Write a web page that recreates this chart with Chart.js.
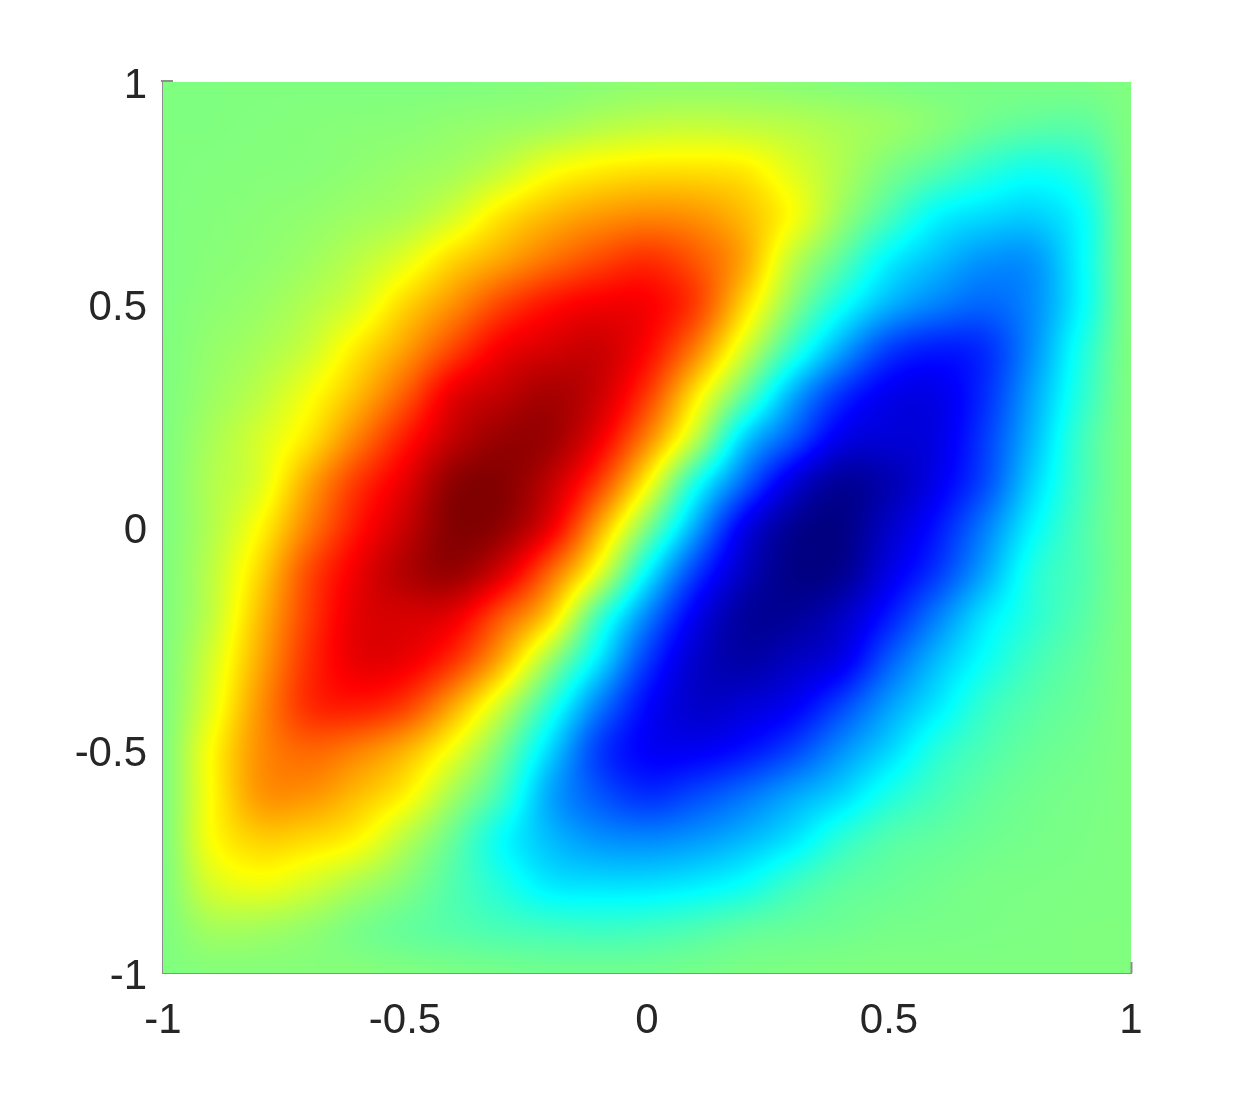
<!DOCTYPE html>
<html>
<head>
<meta charset="utf-8">
<script src="https://cdn.jsdelivr.net/npm/chart.js@4/dist/chart.umd.min.js"></script>
<style>
html, body { margin: 0; padding: 0; background: #fff; }
canvas { display: block; }
</style>
</head>
<body>
<canvas id="chart" width="1250" height="1094"></canvas>
<script>
// grid positions
const xValues = [-1,-.9,-.8,-.7,-.6,-.5,-.4,-.3,-.2,-.1,0,.1,.2,.3,.4,.5,.6,.7,.8,.9,1];
const yValues = [1,.9,.8,.7,.6,.5,.4,.3,.2,.1,0,-.1,-.2,-.3,-.4,-.5,-.6,-.7,-.8,-.9,-1];
const tickValues = [-1,-.5,0,.5,1];
const tickLabels = ['-1','-0.5','0','0.5','1'];

const surface = [
  [0,0,0,0,0,0,0,.005,.01,.02,.03,.03,.03,.02,.01,0,-.01,-.01,-.01,-.01,0],
  [0,0,.005,.01,.015,.02,.035,.05,.07,.105,.13,.14,.13,.11,.08,.05,.01,-.04,-.07,-.07,0],
  [0,.005,.01,.015,.03,.05,.075,.14,.235,.285,.31,.31,.29,.19,.09,-.01,-.09,-.17,-.22,-.17,0],
  [0,.01,.02,.035,.06,.09,.17,.30,.39,.45,.48,.46,.38,.24,.05,-.11,-.26,-.32,-.34,-.24,0],
  [0,.015,.03,.06,.115,.2,.33,.43,.53,.61,.66,.58,.42,.13,-.07,-.27,-.38,-.46,-.45,-.25,0],
  [0,.025,.05,.10,.18,.33,.47,.62,.72,.77,.76,.63,.33,.02,-.22,-.4,-.50,-.55,-.47,-.25,0],
  [0,.04,.08,.15,.29,.44,.62,.77,.83,.85,.74,.50,.17,-.15,-.42,-.63,-.70,-.66,-.46,-.2,0],
  [0,.055,.12,.23,.38,.57,.79,.87,.92,.85,.64,.30,-.05,-.40,-.65,-.78,-.79,-.66,-.42,-.17,0],
  [0,.08,.17,.30,.50,.70,.87,.95,.94,.78,.49,.12,-.33,-.58,-.79,-.83,-.80,-.63,-.38,-.13,0],
  [0,.095,.19,.42,.64,.80,.97,.985,.87,.63,.26,-.2,-.55,-.82,-.95,-.90,-.78,-.60,-.33,-.12,0],
  [0,.10,.26,.50,.71,.86,.99,.96,.78,.42,0,-.42,-.78,-.96,-.99,-.86,-.71,-.50,-.26,-.10,0],
  [0,.12,.33,.60,.78,.90,.95,.82,.55,.2,-.26,-.63,-.87,-.985,-.97,-.80,-.64,-.42,-.19,-.095,0],
  [0,.13,.38,.63,.80,.83,.79,.58,.33,-.12,-.49,-.78,-.94,-.95,-.87,-.70,-.50,-.30,-.17,-.08,0],
  [0,.17,.42,.66,.79,.78,.65,.40,.05,-.30,-.64,-.85,-.92,-.87,-.79,-.57,-.38,-.23,-.12,-.055,0],
  [0,.2,.46,.66,.70,.63,.42,.15,-.17,-.50,-.74,-.85,-.83,-.77,-.62,-.44,-.29,-.15,-.08,-.04,0],
  [0,.25,.47,.55,.50,.4,.22,-.02,-.33,-.63,-.76,-.77,-.72,-.62,-.47,-.33,-.18,-.10,-.05,-.025,0],
  [0,.25,.45,.46,.38,.27,.07,-.13,-.42,-.58,-.66,-.61,-.53,-.43,-.33,-.2,-.115,-.06,-.03,-.015,0],
  [0,.24,.34,.32,.26,.11,-.05,-.24,-.38,-.46,-.48,-.45,-.39,-.30,-.17,-.09,-.06,-.035,-.02,-.01,0],
  [0,.17,.22,.17,.09,.01,-.09,-.19,-.29,-.31,-.31,-.285,-.235,-.14,-.075,-.05,-.03,-.015,-.01,-.005,0],
  [0,.07,.07,.04,-.01,-.05,-.08,-.11,-.13,-.14,-.13,-.105,-.07,-.05,-.035,-.02,-.015,-.01,-.005,0,0],
  [0,.01,.01,.01,.01,0,-.01,-.02,-.03,-.03,-.03,-.02,-.01,-.005,0,0,0,0,0,0,0]
];

const axisGray = '#8e8e8e';

// jet colormap, value -1..1
function jet(v) {
  const t = Math.max(0, Math.min(1, (v + 1) / 2));
  const ramp = c => Math.round(255 * Math.max(0, Math.min(1, 1.5 - Math.abs(4 * t - c))));
  return [ramp(3), ramp(2), ramp(1)];
}

// Catmull-Rom between grid values, like shading interp on the surface
function cr(a, b, c, d, u) {
  return 0.5 * (2 * b + (c - a) * u + (2 * a - 5 * b + 4 * c - d) * u * u + (3 * b - a - 3 * c + d) * u * u * u);
}
function sample(x, y) {
  const n = xValues.length - 1, m = yValues.length - 1;
  const fx = Math.min(n - 1e-6, Math.max(0, (x - xValues[0]) / (xValues[n] - xValues[0]) * n));
  const fy = Math.min(m - 1e-6, Math.max(0, (y - yValues[0]) / (yValues[m] - yValues[0]) * m));
  const i = Math.floor(fx), j = Math.floor(fy);
  const row = r => {
    const R = surface[Math.max(0, Math.min(m, r))];
    return cr(R[Math.max(0, i - 1)], R[i], R[i + 1], R[Math.min(n, i + 2)], fx - i);
  };
  return cr(row(j - 1), row(j), row(j + 1), row(j + 2), fy - j);
}

const surfacePlugin = {
  id: 'surface',
  beforeDatasetsDraw(chart) {
    const { ctx, chartArea: a, scales: { x, y } } = chart;
    const w = Math.round(a.right - a.left), h = Math.round(a.bottom - a.top);
    const off = document.createElement('canvas');
    off.width = w; off.height = h;
    const octx = off.getContext('2d');
    const img = octx.createImageData(w, h);
    for (let py = 0; py < h; py++) {
      const yv = y.getValueForPixel(a.top + py + 0.5);
      for (let px = 0; px < w; px++) {
        const c = jet(sample(x.getValueForPixel(a.left + px + 0.5), yv));
        const k = (py * w + px) * 4;
        img.data[k] = c[0]; img.data[k + 1] = c[1]; img.data[k + 2] = c[2]; img.data[k + 3] = 255;
      }
    }
    octx.putImageData(img, 0, 0);
    ctx.drawImage(off, a.left, a.top);
  },
  afterDatasetsDraw(chart) {
    // the two tick stubs that stick out of the surface
    const { ctx, scales: { x, y } } = chart;
    ctx.save();
    ctx.strokeStyle = axisGray;
    ctx.lineWidth = 2;
    ctx.beginPath();
    ctx.moveTo(x.getPixelForValue(-1) - 2, y.getPixelForValue(1) - 1);
    ctx.lineTo(x.getPixelForValue(-1) + 10, y.getPixelForValue(1) - 1);
    ctx.moveTo(x.getPixelForValue(1) + 0.5, y.getPixelForValue(-1));
    ctx.lineTo(x.getPixelForValue(1) + 0.5, y.getPixelForValue(-1) - 11);
    ctx.stroke();
    ctx.restore();
  }
};

const cells = [];
yValues.forEach((yv, j) => xValues.forEach((xv, i) => cells.push({ x: xv, y: yv, v: surface[j][i] })));

const tickFont = { family: '"Liberation Sans", Arial, sans-serif', size: 42 };

new Chart(document.getElementById('chart'), {
  type: 'scatter',
  data: { datasets: [{ data: cells, pointRadius: 0, pointHoverRadius: 0 }] },
  plugins: [surfacePlugin],
  options: {
    responsive: false,
    animation: false,
    events: [],
    layout: { padding: { left: 0, top: 82, right: 119, bottom: 0 } },
    plugins: { legend: { display: false }, tooltip: { enabled: false }, title: { display: false } },
    scales: {
      x: {
        type: 'linear', min: -1, max: 1,
        afterFit(s) { s.height = 121; },
        afterBuildTicks(s) { s.ticks = tickValues.map(value => ({ value })); },
        grid: { display: false, drawTicks: false },
        border: { display: true, color: axisGray, width: 2 },
        ticks: {
          padding: 23, color: '#262626', font: tickFont, maxRotation: 0, autoSkip: false,
          callback: v => tickLabels[tickValues.indexOf(v)]
        }
      },
      y: {
        type: 'linear', min: -1, max: 1,
        afterFit(s) { s.width = 163; },
        afterBuildTicks(s) { s.ticks = tickValues.map(value => ({ value })); },
        grid: { display: false, drawTicks: false },
        border: { display: true, color: axisGray, width: 2 },
        ticks: {
          padding: 16, labelOffset: 4, color: '#262626', font: tickFont, autoSkip: false,
          callback: v => tickLabels[tickValues.indexOf(v)]
        }
      }
    }
  }
});
</script>
</body>
</html>
